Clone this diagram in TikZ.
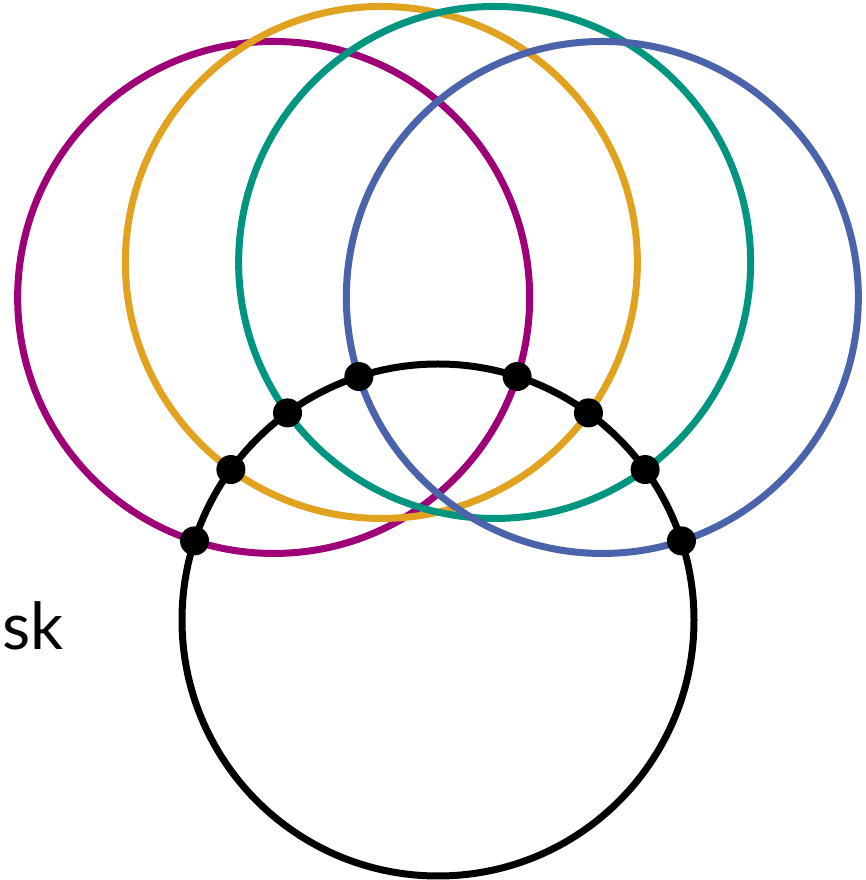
\documentclass[tikz,border=0pt]{standalone}
\usepackage{fontspec}
\setmainfont{Lato}
\usepackage{tikz}
\usetikzlibrary{calc,positioning}
\definecolor{Plum}{HTML}{9E0078}
\definecolor{Gold}{HTML}{E0A21F}
\definecolor{Teal}{HTML}{00957F}
\definecolor{Azure}{HTML}{4A63AB}

\begin{document}
\begin{tikzpicture}[
  ring/.style={line width=0.07cm},
  dot/.style={circle,fill=black,inner sep=0pt,minimum size=0.29cm},
  lbl/.style={font=\fontsize{18.5}{20}\selectfont,inner sep=0pt,anchor=base west}
]
\useasboundingbox (0,0) rectangle (8.66,8.80);
\def\rad{2.56}
\coordinate (c) at (4.38,2.60);
\foreach \ang/\col in {117/Plum,99/Gold,81/Teal,63/Azure}
  \draw[ring,\col] ($(c)+(\ang:3.62)$) circle[radius=\rad];
\draw[ring] (c) circle[radius=\rad];
\foreach \ang [count=\i] in {18,36,54,72,108,126,144,162}
  \node[dot] (d\i) at ($(c)+(\ang:\rad)$) {};
\node[lbl] (disk) at (0.02,2.30) {sk};
\end{tikzpicture}
\end{document}
